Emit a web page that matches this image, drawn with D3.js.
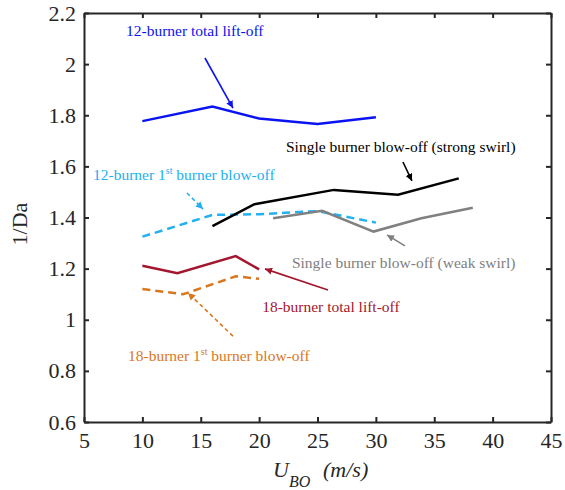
<!DOCTYPE html>
<html><head><meta charset="utf-8">
<script src="https://cdn.jsdelivr.net/npm/d3@7"></script>
<style>
body{margin:0;background:#fff;}
svg{font-family:"Liberation Serif","Times New Roman",serif;}
</style></head>
<body><div id="chart"></div>
<script>
// ---- data ----
const xTicks = [5,10,15,20,25,30,35,40,45];
const yTicks = [0.6,0.8,1,1.2,1.4,1.6,1.8,2,2.2];
const yTickLabels = ["0.6","0.8","1","1.2","1.4","1.6","1.8","2","2.2"];

const blueX = [10,16,20,25,30];
const blueY = [1.777,1.834,1.787,1.766,1.792];
const cyanX = [10,16,20,25,30];
const cyanY = [1.325,1.410,1.413,1.425,1.380];
const blackX = [16,19.6,26.4,31.9,37.1];
const blackY = [1.366,1.452,1.508,1.489,1.553];
const grayX = [21.2,25.4,29.8,33.9,38.3];
const grayY = [1.397,1.426,1.345,1.397,1.438];
const redX = [10,13,18,20];
const redY = [1.211,1.182,1.249,1.197];
const orangeX = [10,13.5,18,20];
const orangeY = [1.120,1.100,1.170,1.160];

const seriesNames = ["12-burner total lift-off","12-burner 1st burner blow-off","Single burner blow-off (strong swirl)","Single burner blow-off (weak swirl)","18-burner total lift-off","18-burner 1st burner blow-off"];

// ---- layout ----
const W=565,H=490;
const m={l:84,t:13,r:14,b:68};
const pw=W-m.l-m.r, ph=H-m.t-m.b;
const x=d3.scaleLinear().domain([5,45]).range([m.l,m.l+pw]);
const y=d3.scaleLinear().domain([0.6,2.2]).range([m.t+ph,m.t]);

const svg=d3.select("#chart").append("svg").attr("width",W).attr("height",H);
const axisColor="#262626";

function styleAxis(g){
  g.select(".domain").attr("stroke",axisColor).attr("stroke-width",2);
  g.selectAll(".tick line").attr("stroke",axisColor).attr("stroke-width",2);
  g.selectAll(".tick text").attr("fill",axisColor).attr("font-size",22)
   .attr("font-family","Liberation Serif, Times New Roman, serif");
}
svg.append("g").attr("transform",`translate(0,${m.t+ph})`)
  .call(d3.axisBottom(x).tickValues(xTicks).tickFormat(d=>String(d)).tickSizeInner(-5).tickSizeOuter(0).tickPadding(10))
  .call(styleAxis);
svg.append("g").attr("transform",`translate(${m.l},0)`)
  .call(d3.axisLeft(y).tickValues(yTicks).tickFormat((d,i)=>yTickLabels[i]).tickSizeInner(-5).tickSizeOuter(0).tickPadding(8))
  .call(styleAxis);
svg.append("g").attr("transform",`translate(0,${m.t})`)
  .call(d3.axisTop(x).tickValues(xTicks).tickFormat("").tickSizeInner(-5).tickSizeOuter(0))
  .call(styleAxis);
svg.append("g").attr("transform",`translate(${m.l+pw},0)`)
  .call(d3.axisRight(y).tickValues(yTicks).tickFormat("").tickSizeInner(-5).tickSizeOuter(0))
  .call(styleAxis);

// ---- lines ----
const line=d3.line().x(d=>x(d[0])).y(d=>y(d[1]));
const series=[
  {xs:blueX,ys:blueY,c:"#0a14f0",dash:null},
  {xs:cyanX,ys:cyanY,c:"#22b0f0",dash:"8,5"},
  {xs:blackX,ys:blackY,c:"#000000",dash:null},
  {xs:grayX,ys:grayY,c:"#808080",dash:null},
  {xs:redX,ys:redY,c:"#a3162e",dash:null},
  {xs:orangeX,ys:orangeY,c:"#d9771e",dash:"8,5"}
];
series.forEach(s=>{
  svg.append("path").datum(s.xs.map((v,i)=>[v,s.ys[i]]))
    .attr("d",line).attr("fill","none").attr("stroke",s.c).attr("stroke-width",2.5)
    .attr("stroke-dasharray",s.dash);
});

// ---- annotations (data coordinates) ----
const defs=svg.append("defs");
series.forEach((s,i)=>{
  defs.append("marker").attr("id","ah"+i).attr("viewBox","0 0 10 10")
    .attr("refX",10).attr("refY",5).attr("markerWidth",4.5).attr("markerHeight",4.5)
    .attr("markerUnits","strokeWidth").attr("orient","auto")
    .append("path").attr("d","M0,0 L10,5 L0,10 Z").attr("fill",s.c);
});
const arrows=[
  [15.36,2.024,17.76,1.828],
  [13.82,1.496,15.19,1.433],
  [32.32,1.617,33.09,1.543],
  [32.49,1.289,30.95,1.332],
  [25.9,1.116,20.5,1.199],
  [17.76,0.936,13.91,1.105]
];
arrows.forEach((a,i)=>{
  svg.append("line").attr("x1",x(a[0])).attr("y1",y(a[1])).attr("x2",x(a[2])).attr("y2",y(a[3]))
    .attr("stroke",series[i].c).attr("stroke-width",1.6)
    .attr("stroke-dasharray",series[i].dash?"4,3":null)
    .attr("marker-end",`url(#ah${i})`);
});
const labelPos=[
  [8.60,2.109],
  [5.77,1.548],
  [22.30,1.657],
  [22.81,1.203],
  [20.26,1.031],
  [8.77,0.839]
];
labelPos.forEach((p,i)=>{
  const t=svg.append("text").attr("x",x(p[0])).attr("y",y(p[1]))
    .attr("fill",series[i].c).attr("font-size",15.5);
  const name=seriesNames[i];
  const k=name.indexOf("1st");
  if(k>=0){
    t.append("tspan").text(name.slice(0,k+1));
    t.append("tspan").attr("font-size",10).attr("dy",-6).text("st");
    t.append("tspan").attr("dy",6).text(name.slice(k+3));
  } else t.text(name);
});

// ---- axis titles ----
svg.append("text").attr("transform","translate(27,224) rotate(-90)")
  .attr("text-anchor","middle").attr("font-size",22).attr("fill",axisColor).text("1/Da");
const xl=svg.append("text").attr("x",273).attr("y",477).attr("font-size",22)
  .attr("font-style","italic").attr("fill",axisColor);
xl.append("tspan").text("U");
xl.append("tspan").attr("font-size",16).attr("dy",10).text("BO");
xl.append("tspan").attr("x",323).attr("dy",-10).text("(m/s)");
</script></body></html>
